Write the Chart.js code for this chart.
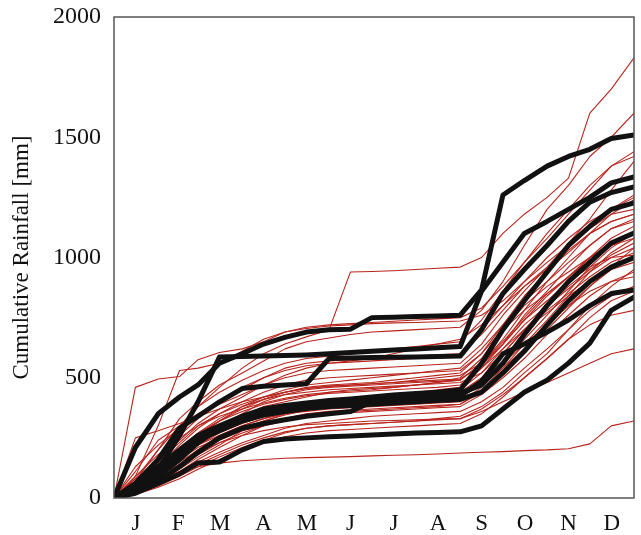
<!DOCTYPE html>
<html>
<head>
<meta charset="utf-8">
<script src="https://cdn.jsdelivr.net/npm/chart.js@4/dist/chart.umd.min.js"></script>
<style>
  body { margin: 0; background: #fff; }
  #wrap { width: 641px; height: 535px; }
</style>
</head>
<body>
<div id="wrap"><canvas id="rain" width="641" height="535"></canvas></div>
<script>
// day of year where each value was read
const days = [0, 15, 31, 46, 59, 74, 90, 105, 120, 135, 151, 166, 181, 196, 212, 227, 243, 258, 273, 288, 304, 319, 334, 349, 365];

const monthLetters = ['J', 'F', 'M', 'A', 'M', 'J', 'J', 'A', 'S', 'O', 'N', 'D'];
const monthMid = [15.5, 45, 74.5, 105, 135.5, 166, 196.5, 227.5, 258, 288.5, 319, 349.5];
const yTicks = [0, 500, 1000, 1500, 2000];

// thick black years
const black1 = [0, 210, 350, 420, 470, 560, 600, 640, 668, 690, 700, 702, 750, 752, 755, 757, 760, 865, 1260, 1320, 1380, 1420, 1450, 1495, 1510];
const black2 = [0, 40, 120, 260, 400, 586, 588, 590, 592, 595, 600, 605, 610, 615, 620, 625, 630, 860, 980, 1100, 1150, 1200, 1250, 1310, 1335];
const black3 = [0, 60, 160, 290, 340, 400, 455, 465, 470, 475, 580, 582, 584, 585, 586, 588, 590, 700, 850, 950, 1050, 1150, 1230, 1270, 1293];
const black4 = [0, 50, 130, 200, 260, 300, 340, 370, 385, 395, 405, 412, 420, 428, 435, 440, 450, 560, 700, 820, 940, 1050, 1130, 1200, 1227];
const black5 = [0, 30, 90, 160, 230, 290, 330, 360, 375, 385, 395, 400, 405, 412, 420, 425, 435, 470, 560, 680, 800, 900, 980, 1060, 1102];
const black6 = [0, 40, 110, 180, 240, 280, 320, 345, 360, 372, 380, 385, 390, 395, 400, 405, 410, 440, 520, 610, 720, 820, 900, 960, 1000];
const black7 = [0, 20, 60, 100, 146, 150, 200, 235, 245, 250, 255, 258, 262, 266, 270, 272, 275, 300, 370, 440, 490, 561, 644, 780, 835];
const black8 = [0, 25, 70, 130, 190, 250, 290, 310, 325, 340, 350, 360, 400, 405, 410, 415, 425, 485, 600, 640, 690, 740, 800, 850, 865];

// thin red years
const red1 = [0, 40, 80, 110, 130, 145, 155, 160, 165, 168, 170, 172, 175, 178, 180, 183, 187, 190, 193, 197, 200, 205, 225, 300, 320];
const red2 = [0, 60, 170, 280, 380, 460, 540, 600, 640, 670, 700, 940, 942, 945, 950, 955, 960, 1000, 1100, 1180, 1250, 1330, 1600, 1700, 1830];
const red3 = [0, 460, 495, 505, 575, 605, 620, 650, 690, 710, 720, 725, 730, 735, 740, 745, 750, 790, 880, 980, 1080, 1180, 1280, 1380, 1440];
const red4 = [0, 90, 300, 530, 540, 560, 610, 660, 690, 705, 715, 720, 725, 728, 730, 733, 736, 760, 820, 900, 1000, 1080, 1150, 1200, 1250];
const red5 = [0, 70, 200, 330, 400, 470, 520, 570, 620, 650, 665, 680, 690, 695, 700, 705, 710, 780, 900, 1050, 1200, 1300, 1420, 1500, 1600];
const red6 = [0, 50, 150, 260, 330, 400, 450, 500, 540, 560, 570, 575, 580, 585, 590, 595, 600, 680, 780, 880, 950, 1020, 1100, 1150, 1180];
const red7 = [0, 30, 100, 170, 220, 300, 350, 400, 430, 450, 460, 465, 470, 475, 480, 485, 490, 560, 650, 750, 850, 920, 990, 1050, 1100];
const red8 = [0, 20, 70, 120, 170, 220, 280, 320, 350, 370, 380, 385, 390, 395, 400, 410, 420, 480, 560, 640, 720, 800, 880, 950, 1000];
const red9 = [0, 60, 120, 180, 240, 300, 340, 380, 400, 420, 440, 450, 455, 460, 470, 480, 500, 580, 700, 800, 880, 940, 1000, 1050, 1080];
const red10 = [0, 35, 90, 150, 200, 260, 300, 330, 360, 380, 395, 405, 410, 415, 420, 430, 440, 500, 600, 700, 780, 850, 920, 980, 1020];
const red11 = [0, 80, 140, 200, 260, 320, 380, 420, 450, 470, 480, 490, 500, 510, 520, 530, 540, 620, 720, 820, 900, 980, 1050, 1120, 1150];
const red12 = [0, 15, 50, 90, 130, 170, 210, 240, 270, 290, 300, 305, 310, 315, 320, 330, 340, 380, 440, 520, 600, 700, 800, 880, 950];
const red13 = [0, 25, 75, 140, 200, 240, 280, 300, 320, 340, 350, 355, 360, 365, 370, 375, 380, 430, 500, 580, 680, 760, 840, 900, 940];
const red14 = [0, 45, 130, 220, 290, 350, 400, 440, 470, 490, 500, 505, 510, 515, 520, 525, 530, 600, 700, 780, 850, 920, 1000, 1080, 1130];
const red15 = [0, 110, 240, 300, 350, 400, 460, 500, 530, 550, 560, 565, 570, 575, 580, 590, 600, 700, 800, 900, 980, 1050, 1120, 1180, 1200];
const red16 = [0, 20, 60, 100, 150, 190, 230, 260, 290, 310, 320, 330, 340, 345, 350, 355, 360, 400, 460, 540, 620, 700, 780, 840, 880];
const red17 = [0, 55, 110, 170, 220, 270, 310, 340, 365, 385, 400, 410, 420, 430, 440, 450, 460, 540, 640, 760, 860, 960, 1050, 1120, 1160];
const red18 = [0, 70, 160, 240, 310, 370, 420, 470, 510, 540, 560, 570, 580, 600, 620, 640, 660, 720, 800, 880, 960, 1040, 1120, 1200, 1260];
const red19 = [0, 30, 80, 130, 180, 230, 270, 300, 330, 350, 360, 365, 370, 375, 380, 385, 390, 440, 520, 620, 720, 800, 860, 900, 920];
const red20 = [0, 250, 280, 310, 340, 370, 400, 420, 440, 455, 465, 470, 475, 480, 485, 490, 495, 550, 640, 740, 840, 920, 1000, 1060, 1100];
const red21 = [0, 40, 100, 160, 210, 250, 290, 320, 345, 365, 380, 390, 400, 405, 410, 415, 420, 470, 540, 620, 700, 790, 880, 960, 1040];
const red22 = [0, 60, 130, 200, 250, 290, 330, 360, 380, 395, 405, 410, 420, 425, 430, 440, 450, 520, 620, 720, 800, 870, 940, 1000, 1040];
const red23 = [0, 25, 65, 110, 160, 210, 260, 300, 330, 345, 355, 360, 365, 370, 375, 380, 390, 450, 540, 640, 740, 840, 940, 1020, 1080];
const red24 = [0, 90, 180, 250, 300, 340, 370, 395, 415, 430, 440, 445, 450, 460, 470, 480, 490, 560, 660, 780, 900, 1000, 1100, 1180, 1240];
const red25 = [0, 35, 120, 210, 270, 320, 360, 390, 410, 425, 435, 440, 445, 450, 455, 460, 470, 540, 620, 700, 770, 840, 900, 950, 980];
const red26 = [0, 50, 110, 170, 220, 260, 300, 330, 350, 360, 370, 375, 380, 385, 390, 395, 400, 460, 560, 660, 760, 860, 960, 1040, 1100];
const red27 = [0, 20, 55, 100, 140, 180, 220, 250, 275, 290, 300, 305, 310, 315, 320, 325, 330, 370, 430, 500, 580, 660, 750, 820, 860];
const red28 = [0, 130, 220, 290, 340, 390, 430, 470, 500, 520, 530, 535, 540, 545, 550, 555, 560, 640, 760, 860, 960, 1060, 1160, 1280, 1400];
const red29 = [0, 60, 150, 230, 300, 350, 390, 420, 440, 455, 465, 470, 475, 480, 490, 500, 510, 560, 640, 740, 820, 900, 960, 1000, 1010];
const red30 = [0, 15, 45, 80, 120, 160, 200, 230, 255, 270, 280, 285, 290, 295, 300, 305, 310, 350, 420, 500, 580, 660, 720, 760, 780];
const red31 = [0, 40, 90, 140, 190, 230, 260, 280, 295, 305, 310, 315, 320, 322, 325, 328, 330, 360, 400, 440, 480, 520, 560, 600, 620];
const red32 = [0, 80, 200, 300, 380, 440, 490, 530, 560, 580, 590, 600, 610, 620, 630, 640, 650, 740, 860, 980, 1100, 1200, 1300, 1380, 1420];
const red33 = [0, 30, 100, 190, 260, 320, 370, 410, 440, 460, 470, 475, 480, 490, 500, 510, 520, 600, 720, 840, 940, 1030, 1100, 1150, 1180];
const red34 = [0, 45, 120, 200, 270, 330, 380, 410, 430, 440, 450, 455, 460, 465, 470, 475, 480, 520, 600, 700, 800, 880, 950, 1010, 1060];

const blackYears = [black1, black2, black3, black4, black5, black6, black7, black8];
const redYears = [red1, red2, red3, red4, red5, red6, red7, red8, red9, red10, red11, red12, red13, red14, red15, red16, red17,
  red18, red19, red20, red21, red22, red23, red24, red25, red26, red27, red28, red29, red30, red31, red32, red33, red34];

function toPoints(vals) {
  return vals.map((v, i) => ({ x: days[i], y: v }));
}

const datasets = [];
blackYears.forEach(vals => {
  datasets.push({ data: toPoints(vals), borderColor: '#111111', borderWidth: 5, order: 0 });
});
redYears.forEach(vals => {
  datasets.push({ data: toPoints(vals), borderColor: '#b8241c', borderWidth: 1.1, order: 1 });
});

// box round the plot area
const frame = {
  id: 'frame',
  afterDraw(chart) {
    const a = chart.chartArea;
    const ctx = chart.ctx;
    ctx.save();
    ctx.strokeStyle = '#555';
    ctx.lineWidth = 1.5;
    ctx.strokeRect(a.left, a.top, a.right - a.left, a.bottom - a.top);
    ctx.restore();
  }
};

const serif = 'Liberation Serif, Times New Roman, serif';

new Chart(document.getElementById('rain'), {
  type: 'line',
  data: { datasets: datasets },
  options: {
    responsive: false,
    animation: false,
    layout: { padding: { top: 17, right: 7, left: 0, bottom: 0 } },
    elements: {
      point: { radius: 0 },
      line: { tension: 0, borderJoinStyle: 'round', borderCapStyle: 'round' }
    },
    plugins: { legend: { display: false }, tooltip: { enabled: false } },
    scales: {
      x: {
        type: 'linear',
        min: 0,
        max: 365,
        grid: { display: false, drawTicks: false },
        border: { display: false },
        afterBuildTicks(scale) {
          scale.ticks = monthMid.map(v => ({ value: v }));
        },
        afterFit(scale) {
          scale.height = 37;
          scale.paddingLeft = 0;
          scale.paddingRight = 0;
        },
        ticks: {
          autoSkip: false,
          maxRotation: 0,
          padding: 12,
          color: '#111',
          font: { family: serif, size: 23 },
          callback(value, index) { return monthLetters[index]; }
        }
      },
      y: {
        min: 0,
        max: 2000,
        grid: { display: false, drawTicks: false },
        border: { display: false },
        afterBuildTicks(scale) {
          scale.ticks = yTicks.map(v => ({ value: v }));
        },
        afterFit(scale) {
          scale.width = 114;
          scale.paddingTop = 0;
          scale.paddingBottom = 0;
        },
        ticks: {
          padding: 13,
          color: '#111',
          font: { family: serif, size: 24 },
          callback(value) { return String(value); }
        },
        title: {
          display: true,
          text: 'Cumulative Rainfall [mm]',
          color: '#111',
          font: { family: serif, size: 23 },
          padding: { top: 8, bottom: 4 }
        }
      }
    }
  },
  plugins: [frame]
});
</script>
</body>
</html>
